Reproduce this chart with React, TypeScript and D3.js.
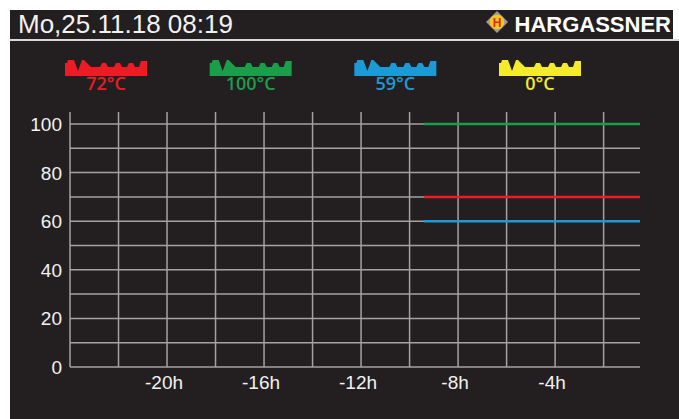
import React from 'react';
import * as d3 from 'd3';

// header
const headerText = 'Mo,25.11.18 08:19';
const brandText = 'HARGASSNER';

// legend / series
const seriesNames = ['red', 'green', 'blue', 'yellow'];
const seriesColors = ['#ed1c24', '#1a9e4a', '#1a9bd7', '#f5eb2a'];
const legendLabels = ['72°C', '100°C', '59°C', '0°C'];

// series values: [hours, °C]
const redValues: [number, number][] = [[-9.4, 70], [-0.5, 70]];
const greenValues: [number, number][] = [[-9.4, 100], [-0.5, 100]];
const blueValues: [number, number][] = [[-9.4, 60], [-0.5, 60]];
const yellowValues: [number, number][] = [];
const allSeries = [redValues, greenValues, blueValues, yellowValues];

// ticks
const yTicks = [0, 20, 40, 60, 80, 100];
const yGrid = [0, 10, 20, 30, 40, 50, 60, 70, 80, 90, 100];
const xGrid = [-24, -22, -20, -18, -16, -14, -12, -10, -8, -6, -4, -2];
const xTicks = [-20, -16, -12, -8, -4];

const BG = '#231f20';
const GRID = '#a3a3a3';

// little curve glyph used in the legend (local coords, 82 x 16)
const iconPts: [number, number][] = [
  [0, 16], [0, 3], [2, 3], [3, 0], [9, 0], [13, 11], [17, 0], [19, 0], [26, 7],
  [35, 7], [37, 3], [41, 3], [43, 7], [49, 7], [51, 3], [55, 3], [57, 7],
  [62, 7], [64, 3], [68, 3], [70, 7], [74, 7], [76, 1], [82, 1], [82, 16],
];

export default function App() {
  const width = 679;
  const height = 419;

  const x = d3.scaleLinear().domain([-24, -0.5]).range([70, 640]);
  const y = d3.scaleLinear().domain([0, 100]).range([367, 124]);
  const legendX = d3.scalePoint<string>().domain(seriesNames).range([65, 499]);

  const line = d3
    .line<[number, number]>()
    .x((d) => x(d[0]))
    .y((d) => y(d[1]));

  const iconPath = d3.line()(iconPts) + 'Z';

  return (
    <svg
      width={width}
      height={height}
      style={{ position: 'absolute', left: 0, top: 0, display: 'block' }}
    >
      <rect x={0} y={0} width={width} height={height} fill="#fff" />
      {/* header */}
      <rect x={10} y={10} width={663} height={29} fill={BG} />
      <rect x={10} y={39} width={669} height={2} fill="#d9d9d9" />
      <rect x={10} y={41} width={669} height={378} fill={BG} />
      <text
        x={18}
        y={33}
        fill="#f2f2f2"
        fontFamily="'Liberation Sans', Arial, sans-serif"
        fontSize={26}
      >
        {headerText}
      </text>
      <g transform="translate(497,22)">
        <path d="M0,-11L11,0L0,11L-11,0Z" fill="#9a9a9a" />
        <circle r={7.3} fill="#f7c51e" />
        <text
          y={4.5}
          textAnchor="middle"
          fill="#e32526"
          fontFamily="'Liberation Sans', Arial, sans-serif"
          fontWeight="bold"
          fontSize={12}
        >
          H
        </text>
      </g>
      <text
        x={671}
        y={32}
        textAnchor="end"
        fill="#ffffff"
        fontFamily="'Liberation Sans', Arial, sans-serif"
        fontWeight="bold"
        fontSize={22}
      >
        {brandText}
      </text>

      {/* legend */}
      {seriesNames.map((name, i) => (
        <g key={name} transform={`translate(${legendX(name)},60)`}>
          <path d={iconPath} fill={seriesColors[i]} />
          <text
            x={41}
            y={30}
            textAnchor="middle"
            fill={seriesColors[i]}
            fontFamily="'Open Sans', sans-serif"
            fontWeight={600}
            fontSize={18}
          >
            {legendLabels[i]}
          </text>
        </g>
      ))}

      {/* grid */}
      {yGrid.map((v) => (
        <line
          key={'h' + v}
          x1={x(-24)}
          x2={x(-0.5)}
          y1={y(v)}
          y2={y(v)}
          stroke={GRID}
          strokeWidth={1.5}
        />
      ))}
      {xGrid.map((h) => (
        <line
          key={'v' + h}
          x1={x(h)}
          x2={x(h)}
          y1={112}
          y2={y(0)}
          stroke={GRID}
          strokeWidth={1.5}
        />
      ))}

      {/* series */}
      {allSeries.map((vals, i) =>
        vals.length ? (
          <path
            key={seriesNames[i]}
            d={line(vals) ?? ''}
            fill="none"
            stroke={seriesColors[i]}
            strokeWidth={2.5}
          />
        ) : null
      )}

      {/* axis labels */}
      {yTicks.map((v) => (
        <text
          key={'yl' + v}
          x={62}
          y={y(v) + 7}
          textAnchor="end"
          fill="#f2f2f2"
          fontFamily="'Liberation Sans', Arial, sans-serif"
          fontSize={19}
        >
          {v}
        </text>
      ))}
      {xTicks.map((h) => (
        <text
          key={'xl' + h}
          x={x(h) - 3}
          y={389}
          textAnchor="middle"
          fill="#f2f2f2"
          fontFamily="'Liberation Sans', Arial, sans-serif"
          fontSize={19}
        >
          {h}h
        </text>
      ))}
    </svg>
  );
}
